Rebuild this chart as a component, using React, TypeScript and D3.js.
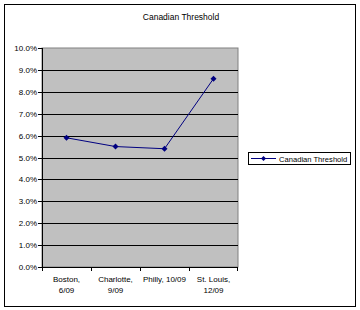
import React from "react";
import * as d3 from "d3";

const categories: string[][] = [["Boston,", "6/09"], ["Charlotte,", "9/09"], ["Philly, 10/09"], ["St. Louis,", "12/09"]];
const values: number[] = [0.059, 0.055, 0.054, 0.086];
const yTicks: number[] = [0, 0.01, 0.02, 0.03, 0.04, 0.05, 0.06, 0.07, 0.08, 0.09, 0.1];
const seriesName = "Canadian Threshold";
const title = "Canadian Threshold";

export default function App() {
  const W = 360, H = 310;
  const left = 42, right = 238, top = 48, bottom = 267;
  const x = d3.scaleBand<number>().domain(categories.map((_, i) => i)).range([left, right]);
  const y = d3.scaleLinear().domain([0, 0.1]).range([bottom, top]);
  const line = d3.line<number>().x((_, i) => x(i)! + x.bandwidth() / 2).y(d => y(d));
  const font = "Arial, 'Liberation Sans', sans-serif";
  const navy = "#000080";
  const diamond = (cx: number, cy: number, s = 3) => `M${cx},${cy - s}L${cx + s},${cy}L${cx},${cy + s}L${cx - s},${cy}Z`;
  return (
    <svg width={W} height={H} style={{ position: "absolute", left: 0, top: 0 }} fontFamily={font}>
      <rect x={0} y={0} width={W} height={H} fill="#fff" />
      <rect x={4.5} y={4.5} width={351} height={302} fill="none" stroke="#000" strokeWidth={1} />
      <text x={181} y={20} textAnchor="middle" fontSize={8.5} fill="#000">{title}</text>
      <rect x={left} y={top} width={right - left} height={bottom - top} fill="#c0c0c0" stroke="#808080" strokeWidth={1} />
      {yTicks.slice(1, -1).map(t => (
        <line key={t} x1={left} x2={right} y1={Math.round(y(t)) + 0.5} y2={Math.round(y(t)) + 0.5} stroke="#000" strokeWidth={1} />
      ))}
      <line x1={left + 0.5} x2={left + 0.5} y1={top} y2={bottom} stroke="#000" />
      <line x1={left} x2={right} y1={bottom + 0.5} y2={bottom + 0.5} stroke="#000" />
      {yTicks.map(t => (
        <g key={t}>
          <line x1={left - 4} x2={left} y1={Math.round(y(t)) + 0.5} y2={Math.round(y(t)) + 0.5} stroke="#000" />
          <text x={left - 5} y={y(t) + 3} textAnchor="end" fontSize={8} fill="#000">{d3.format(".1%")(t)}</text>
        </g>
      ))}
      {categories.map((_, i) => (
        <line key={i} x1={Math.round(x(i)!) + 0.5} x2={Math.round(x(i)!) + 0.5} y1={bottom} y2={bottom + 4} stroke="#000" />
      ))}
      <line x1={right - 0.5} x2={right - 0.5} y1={bottom} y2={bottom + 4} stroke="#000" />
      {categories.map((c, i) => (
        <text key={i} x={x(i)! + x.bandwidth() / 2} y={282} textAnchor="middle" fontSize={8} fill="#000">
          {c.map((l, j) => <tspan key={j} x={x(i)! + x.bandwidth() / 2} dy={j === 0 ? 0 : 11}>{l}</tspan>)}
        </text>
      ))}
      <path d={line(values)!} fill="none" stroke={navy} strokeWidth={1} />
      {values.map((v, i) => (
        <path key={i} d={diamond(x(i)! + x.bandwidth() / 2, y(v))} fill={navy} />
      ))}
      <rect x={248.5} y={152.5} width={102} height={12} fill="#fff" stroke="#000" />
      <line x1={251} x2={276} y1={158.5} y2={158.5} stroke={navy} />
      <path d={diamond(263.5, 158.5, 2.5)} fill={navy} />
      <text x={279} y={161.5} fontSize={7.6} fill="#000">{seriesName}</text>
    </svg>
  );
}
